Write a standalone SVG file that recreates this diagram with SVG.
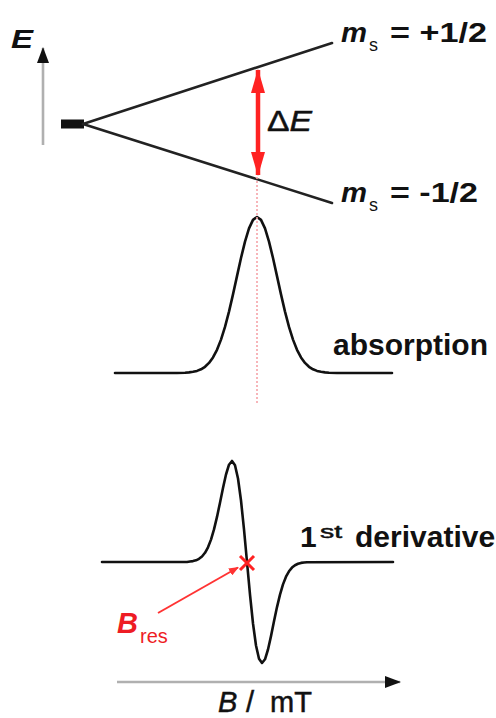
<svg xmlns="http://www.w3.org/2000/svg" width="496" height="718" viewBox="0 0 496 718">
<defs>
<style>
.t{font-family:"Liberation Sans",Arial,sans-serif;fill:#111}
.b{font-weight:bold}
.i{font-style:italic}
.thick{stroke:#111;stroke-width:0.5}
.red{fill:#ee1c24}
.lvl{stroke:#222;stroke-width:2.6;fill:none;stroke-linecap:round}
.curve{stroke:#111;stroke-width:2.6;fill:none;stroke-linejoin:round;stroke-linecap:round}
.axis{stroke:#b0b0b0;stroke-width:2.6;fill:none}
</style>
<marker id="ahBlack" markerUnits="userSpaceOnUse" markerWidth="16" markerHeight="14" viewBox="0 0 16 12" refX="15" refY="6" orient="auto"><path d="M0,0 L16,6 L0,12 z" fill="#111"/></marker>
<marker id="ahRedBig" markerUnits="userSpaceOnUse" markerWidth="24" markerHeight="14" viewBox="0 0 24 14" refX="23" refY="7" orient="auto-start-reverse"><path d="M0,0 L24,7 L0,14 z" fill="#f22"/></marker>
<marker id="ahRedSmall" markerUnits="userSpaceOnUse" markerWidth="10" markerHeight="8" viewBox="0 0 10 8" refX="9" refY="4" orient="auto"><path d="M0,0 L10,4 L0,8 z" fill="#f33"/></marker>
</defs>
<rect width="496" height="718" fill="#fff"/>

<g id="energy-axis">
<line class="axis" x1="43" y1="145" x2="43" y2="48" stroke-width="3" marker-end="url(#ahBlack)"/>
<text class="t i b" x="11" y="48" font-size="26" textLength="22" lengthAdjust="spacingAndGlyphs">E</text>
</g>

<g id="levels">
<rect x="61" y="119.5" width="23" height="9" fill="#111"/>
<line class="lvl" x1="83" y1="124" x2="332" y2="43"/>
<line class="lvl" x1="83" y1="124" x2="332" y2="203"/>
<text class="t i b" x="341" y="42" font-size="27" textLength="26" lengthAdjust="spacingAndGlyphs">m</text>
<text class="t" x="369" y="51" font-size="18">s</text>
<text class="t b" x="390" y="42" font-size="27" textLength="97" lengthAdjust="spacingAndGlyphs">= +1/2</text>
<text class="t i b" x="341" y="202" font-size="27" textLength="26" lengthAdjust="spacingAndGlyphs">m</text>
<text class="t" x="369" y="211" font-size="18">s</text>
<text class="t b" x="390" y="202" font-size="27" textLength="88" lengthAdjust="spacingAndGlyphs">= -1/2</text>
</g>

<g id="delta-e">
<text class="t thick" x="267" y="131" font-size="29" textLength="45" lengthAdjust="spacingAndGlyphs">Δ<tspan class="i">E</tspan></text>
</g>

<g id="absorption">
<polyline class="curve" points="115,373 177,373 185,372.7 189,372.4 193,371.8 197,370.9 201,369.3 205,366.8 209,362.9 213,357.4 217,349.8 221,339.6 225,326.9 229,311.6 233,294.4 237,276.1 241,258 245,241.6 249,228.4 253,219.9 257,217 261,219.9 265,228.4 269,241.6 273,258 277,276.1 281,294.4 285,311.6 289,326.9 293,339.6 297,349.8 301,357.4 305,362.9 309,366.8 313,369.3 317,370.9 321,371.8 325,372.4 329,372.7 337,373 392,373"/>
<text class="t b" x="333" y="355" font-size="30">absorption</text>
</g>

<g id="derivative">
<polyline class="curve" points="102,562 187,562 190,561.5 193,561.1 196,560.3 199,558.8 202,556.5 205,552.8 208,547.3 211,539.6 214,529.4 217,516.9 220,502.7 223,487.9 226,474.5 229,464.7 232,461 235,465.3 238,478.5 241,500.5 244,529.4 247,562 250,594.6 253,623.5 256,645.5 259,658.7 262,663 265,659.3 268,649.5 271,636.1 274,621.3 277,607.1 280,594.6 283,584.4 286,576.7 289,571.3 292,567.6 295,565.2 298,563.8 301,562.9 304,562.5 307,562.2 393,562"/>
<text class="t b" x="300" y="547" font-size="30">1</text>
<text class="t thick" x="320" y="538" font-size="18" textLength="22" lengthAdjust="spacingAndGlyphs">st</text>
<text class="t b" x="355" y="547" font-size="30">derivative</text>
</g>

<g id="b-res">
<line x1="240" y1="556" x2="254" y2="570" stroke="#f22" stroke-width="3"/>
<line x1="254" y1="556" x2="240" y2="570" stroke="#f22" stroke-width="3"/>
<text class="t i b red" x="117" y="633" font-size="29">B</text>
<text class="t red" x="140" y="643" font-size="20">res</text>
</g>

<g id="field-axis">
<line class="axis" x1="117" y1="682" x2="400" y2="682" stroke-width="2.4" marker-end="url(#ahBlack)"/>
<text class="t i thick" x="218" y="712" font-size="29">B</text>
<text class="t thick" x="246" y="712" font-size="29">/</text>
<text class="t thick" x="270" y="712" font-size="29">mT</text>
</g>

<g id="connectors">
<line x1="257" y1="177" x2="257" y2="405" stroke="#f5a3a8" stroke-width="1.6" stroke-dasharray="2 2"/>
<line x1="258" y1="70" x2="258" y2="175" stroke="#f22" stroke-width="4.5" marker-start="url(#ahRedBig)" marker-end="url(#ahRedBig)"/>
<line x1="158" y1="613" x2="238" y2="567.5" stroke="#f33" stroke-width="2" marker-end="url(#ahRedSmall)"/>
</g>
</svg>
